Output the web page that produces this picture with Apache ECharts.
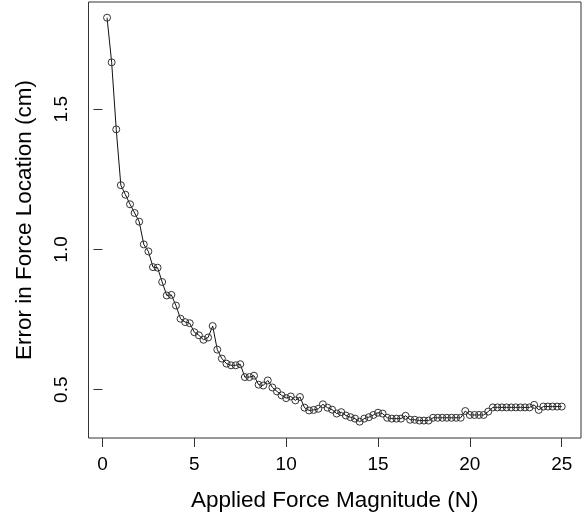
<!DOCTYPE html>
<html>
<head>
<meta charset="utf-8">
<script src="https://cdn.jsdelivr.net/npm/echarts@6/dist/echarts.min.js"></script>
<style>
html,body{margin:0;padding:0;background:#fff;}
#chart{width:585px;height:523px;}
</style>
</head>
<body>
<div id="chart"></div>
<script>
// Applied force magnitude (N)
const forceValues = [
  0.25,0.5,0.75,1.0,1.25,1.5,1.75,2.0,2.25,2.5,
  2.75,3.0,3.25,3.5,3.75,4.0,4.25,4.5,4.75,5.0,
  5.25,5.5,5.75,6.0,6.25,6.5,6.75,7.0,7.25,7.5,
  7.75,8.0,8.25,8.5,8.75,9.0,9.25,9.5,9.75,10.0,
  10.25,10.5,10.75,11.0,11.25,11.5,11.75,12.0,12.25,12.5,
  12.75,13.0,13.25,13.5,13.75,14.0,14.25,14.5,14.75,15.0,
  15.25,15.5,15.75,16.0,16.25,16.5,16.75,17.0,17.25,17.5,
  17.75,18.0,18.25,18.5,18.75,19.0,19.25,19.5,19.75,20.0,
  20.25,20.5,20.75,21.0,21.25,21.5,21.75,22.0,22.25,22.5,
  22.75,23.0,23.25,23.5,23.75,24.0,24.25,24.5,24.75,25.0
];
// Error in force location (cm)
const errorValues = [
  1.826,1.667,1.428,1.229,1.195,1.161,1.130,1.099,1.018,0.993,
  0.937,0.935,0.884,0.836,0.838,0.800,0.753,0.741,0.737,0.705,
  0.694,0.678,0.686,0.727,0.643,0.611,0.593,0.587,0.587,0.591,
  0.545,0.545,0.550,0.518,0.515,0.533,0.508,0.494,0.480,0.470,
  0.476,0.462,0.474,0.436,0.426,0.428,0.432,0.448,0.436,0.429,
  0.415,0.420,0.408,0.402,0.397,0.386,0.397,0.402,0.410,0.418,
  0.415,0.400,0.397,0.397,0.397,0.407,0.393,0.393,0.390,0.390,
  0.390,0.400,0.400,0.400,0.400,0.400,0.400,0.400,0.424,0.410,
  0.410,0.410,0.410,0.422,0.437,0.437,0.437,0.437,0.437,0.437,
  0.437,0.437,0.437,0.446,0.428,0.440,0.440,0.440,0.440,0.440
];
const xTicks = [0, 5, 10, 15, 20, 25];
const yTicks = [0.5, 1.0, 1.5];
const xTitle = 'Applied Force Magnitude (N)';
const yTitle = 'Error in Force Location (cm)';

const seriesData = forceValues.map((x, i) => [x, errorValues[i]]);

const FONT = '"Liberation Sans", Arial, Helvetica, sans-serif';
const chart = echarts.init(document.getElementById('chart'), null, {renderer: 'canvas'});
chart.setOption({
  animation: false,
  backgroundColor: '#ffffff',
  grid: {
    left: 88.5, right: 4, top: 2, bottom: 85,
    show: true, borderColor: '#333', borderWidth: 1, backgroundColor: 'transparent'
  },
  xAxis: {
    type: 'value',
    min: -0.76, max: 26.05,
    axisLine: {show: false},
    splitLine: {show: false},
    axisTick: {show: true, customValues: xTicks, length: 9, lineStyle: {color: '#333', width: 1}},
    axisLabel: {customValues: xTicks, margin: 17, fontSize: 19, color: '#000', fontFamily: FONT,
      formatter: v => String(v)},
    name: xTitle, nameLocation: 'middle', nameGap: 51,
    nameTextStyle: {fontSize: 22.5, color: '#000', fontFamily: FONT}
  },
  yAxis: {
    type: 'value',
    min: 0.3279, max: 1.882,
    axisLine: {show: false},
    splitLine: {show: false},
    axisTick: {show: true, customValues: yTicks, length: 9, lineStyle: {color: '#333', width: 1}},
    axisLabel: {customValues: yTicks, margin: 17, rotate: 90, fontSize: 19, color: '#000', fontFamily: FONT,
      formatter: v => v.toFixed(1)},
    name: yTitle, nameLocation: 'middle', nameGap: 52, nameRotate: 90,
    nameTextStyle: {fontSize: 22.5, color: '#000', fontFamily: FONT}
  },
  series: [{
    type: 'line',
    data: seriesData,
    symbol: 'circle',
    symbolSize: 7,
    showAllSymbol: true,
    lineStyle: {color: '#111', width: 1},
    itemStyle: {color: 'rgba(0,0,0,0)', borderColor: '#333', borderWidth: 1},
    emphasis: {disabled: true}
  }]
});
</script>
</body>
</html>
